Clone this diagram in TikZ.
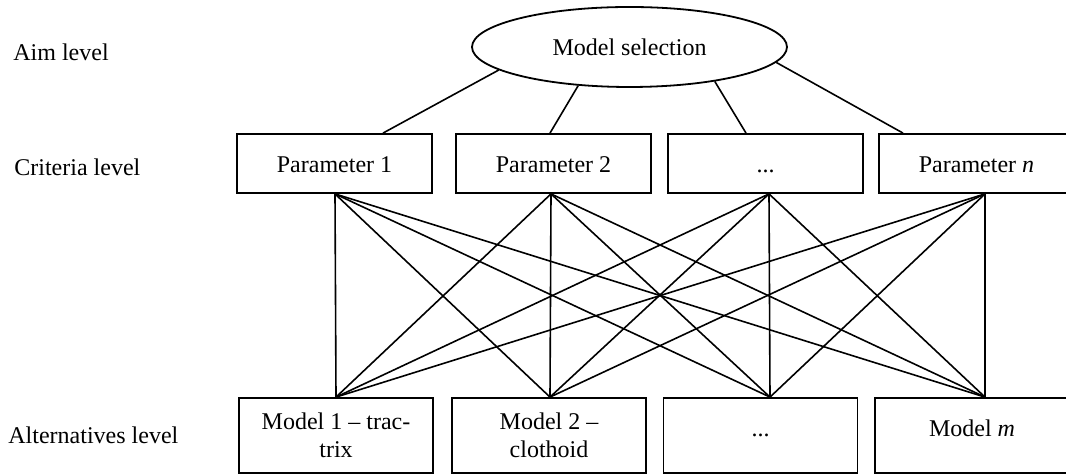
\documentclass[tikz,border=0pt]{standalone}
\usepackage{fontspec}
\setmainfont{Liberation Serif}
\usetikzlibrary{shapes.geometric}

\tikzset{
  box/.style={draw, line width=0.9pt, inner sep=2pt, align=center, font=\fontsize{12}{14}\selectfont},
  critbox/.style={box, minimum width=97.5pt, minimum height=29.5pt, text height=9.5pt, text depth=0pt},
  altbox/.style={box, minimum width=97pt, minimum height=37.5pt},
  altone/.style={altbox, text height=8.5pt, text depth=7pt},
  lvl/.style={anchor=west, inner sep=0pt, font=\fontsize{12}{14}\selectfont},
  link/.style={line width=0.8pt}
}

\begin{document}
\begin{tikzpicture}[x=0.5pt, y=-0.5pt]
  \useasboundingbox (0,0) rectangle (1066,474);

  % Level labels
  \node[lvl] (aim) at (13,52) {Aim level};
  \node[lvl] (crit) at (14,167) {Criteria level};
  \node[lvl] (alt) at (8,435) {Alternatives level};

  % Aim
  \node[box, ellipse, minimum width=157.5pt, minimum height=40pt, inner sep=0pt] (sel) at (629.5,47) {Model selection};

  % Criteria
  \node[critbox] (c1) at (334.5,163.5) {Parameter 1};
  \node[critbox] (c2) at (553.5,163.5) {Parameter 2};
  \node[critbox] (c3) at (765.5,163.5) {...};
  \node[critbox] (c4) at (976.5,163.5) {Parameter \textit{n}};

  % Alternatives
  \node[altbox] (a1) at (336,435.5) {Model 1 -- trac-\\trix};
  \node[altbox] (a2) at (549,435.5) {Model 2 --\\clothoid};
  \node[altone] (a3) at (760.5,435.5) {...};
  \node[altone] (a4) at (972,435.5) {Model \textit{m}};

  % Aim to criteria
  \draw[link] (sel.190.7) -- ([xshift=24.25pt]c1.north);
  \draw[link] (sel.217.8) -- ([xshift=-1.75pt]c2.north);
  \draw[link] (sel.338.8) -- ([xshift=-9.75pt]c3.north);
  \draw[link] (sel.354.5) -- ([xshift=-36.75pt]c4.north);

  % Criteria to alternatives
  \foreach \i/\dx in {1/0.25, 2/-1.25, 3/1.75, 4/4.25}
    \coordinate (c\i-b) at ([xshift=\dx pt]c\i.south);
  \foreach \j/\dx in {1/0, 2/0.5, 3/4.75, 4/6.5}
    \coordinate (a\j-t) at ([xshift=\dx pt]a\j.north);
  \foreach \i in {1,...,4}
    \foreach \j in {1,...,4}
      \draw[link] (c\i-b) -- (a\j-t);
\end{tikzpicture}
\end{document}
